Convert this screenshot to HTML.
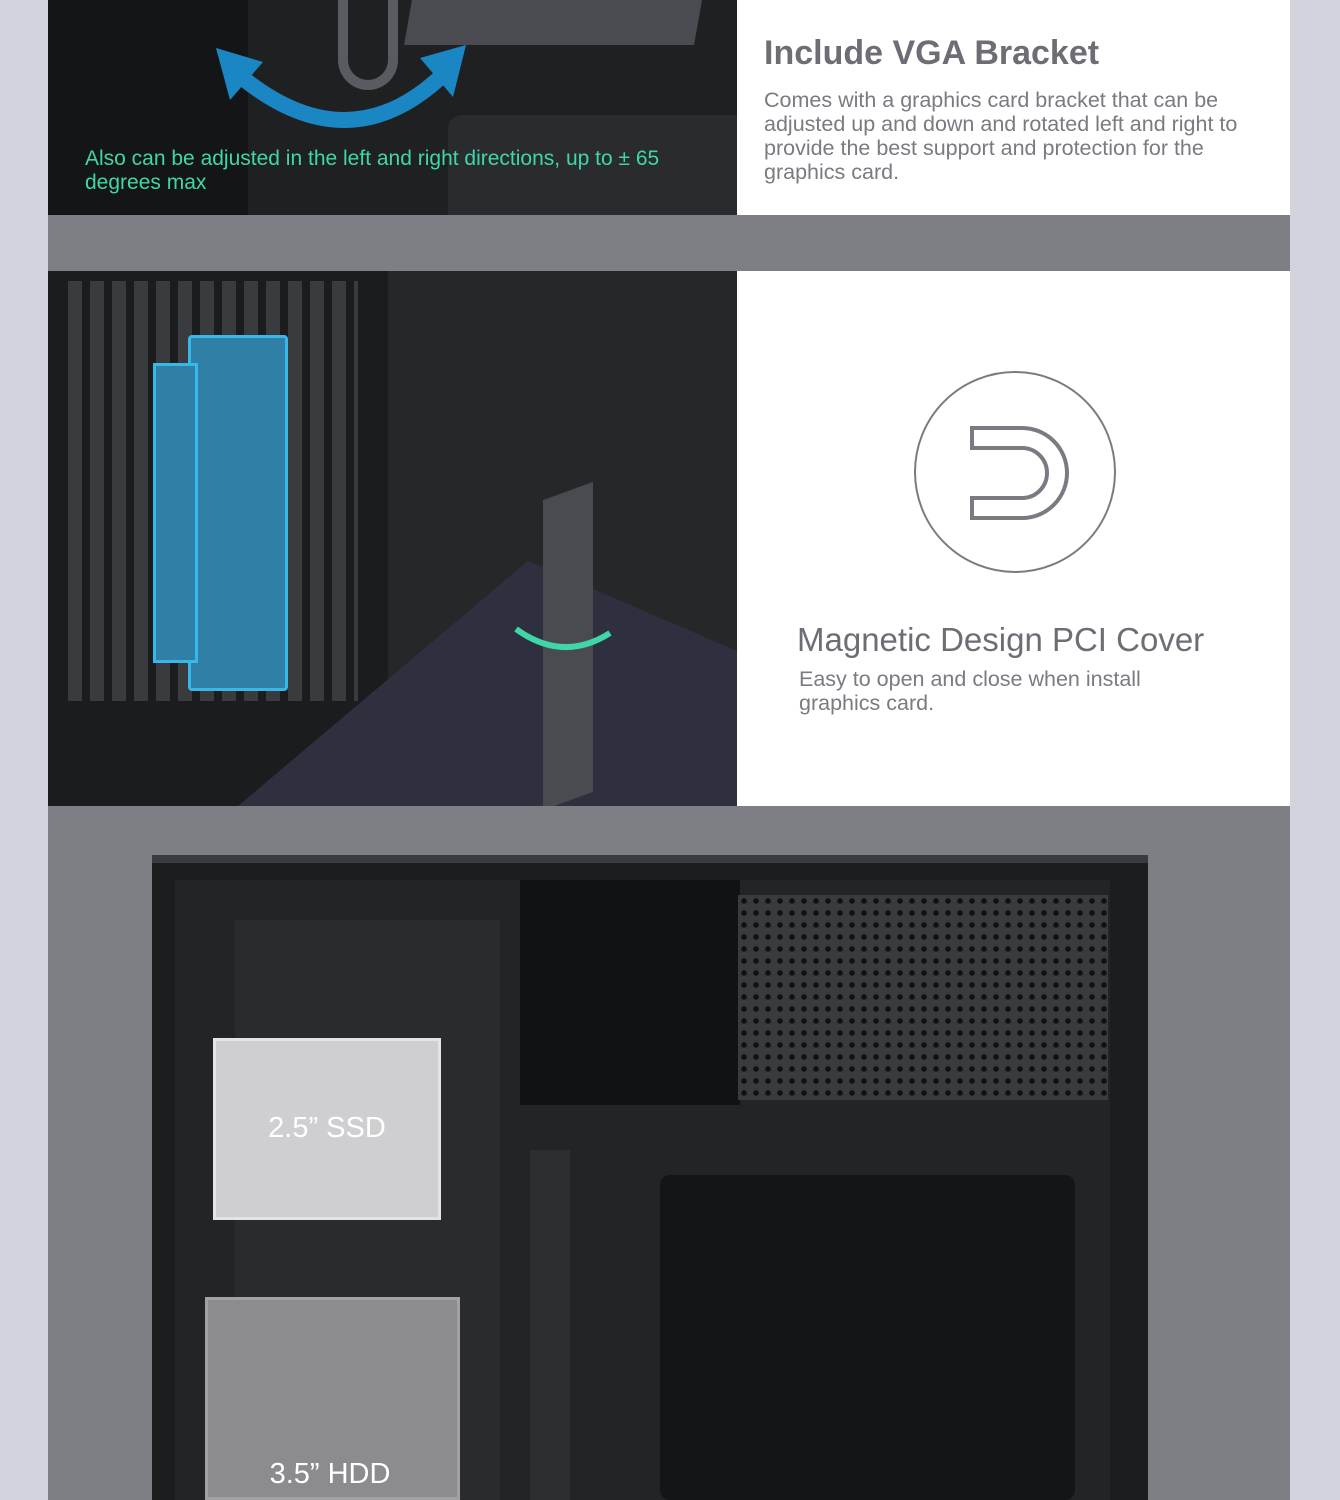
<!DOCTYPE html>
<html><head><meta charset="utf-8"><style>
body{margin:0;width:1340px;height:1500px;background:#d3d3dd;position:relative;overflow:hidden;font-family:"Liberation Sans",sans-serif}
div{position:absolute;box-sizing:border-box}
</style></head><body>
<div style="left:48px;top:0;width:1242px;height:1500px;background:#7e7e85"></div>
<div style="left:48px;top:0;width:689px;height:215px;background:#1f2022;overflow:hidden">
 <div style="left:0;top:0;width:200px;height:215px;background:#141516"></div>
 <div style="left:400px;top:115px;width:289px;height:100px;background:#2a2b2e;border-radius:14px 0 0 0"></div>
 <div style="left:290px;top:0;width:60px;height:90px;border:10px solid #5a5b60;border-top:none;border-radius:0 0 30px 30px"></div>
 <div style="left:360px;top:0;width:290px;height:45px;background:#4a4b50;transform:skewX(-10deg)"></div>
 <svg style="position:absolute;left:0;top:0" width="689" height="215"><path d="M185 70 Q300 170 400 70" fill="none" stroke="#1a86c4" stroke-width="16"/><polygon points="168,48 215,62 182,100" fill="#1a86c4"/><polygon points="418,45 372,58 405,97" fill="#1a86c4"/></svg>
 <div style="left:37px;top:147px;width:580px;color:#3fd6a8;font-size:21px;line-height:24px">Also can be adjusted in the left and right directions, up to ± 65 degrees max</div>
</div>
<div style="left:737px;top:0;width:553px;height:215px;background:#fff">
 <div style="left:27px;top:34px;font-size:34px;font-weight:bold;color:#6d6d75">Include VGA Bracket</div>
 <div style="left:27px;top:88px;width:505px;font-size:21.5px;line-height:24px;color:#7a7a82">Comes with a graphics card bracket that can be adjusted up and down and rotated left and right to provide the best support and protection for the graphics card.</div>
</div>
<div style="left:48px;top:271px;width:689px;height:535px;background:#262729;overflow:hidden">
 <div style="left:0;top:0;width:340px;height:535px;background:#1b1c1e"></div>
 <div style="left:20px;top:10px;width:290px;height:420px;background:repeating-linear-gradient(90deg,#3a3b3e 0 14px,#1b1c1e 14px 22px)"></div>
 <svg style="position:absolute;left:0;top:0" width="689" height="535"><polygon points="190,535 480,290 689,380 689,535" fill="#2e3040"/></svg>
 <div style="left:140px;top:64px;width:100px;height:356px;background:#2f7fa6;border:3px solid #37b8e8;border-radius:4px"></div>
 <div style="left:105px;top:92px;width:45px;height:300px;background:#2f7fa6;border:3px solid #37b8e8"></div>
 <div style="left:495px;top:220px;width:50px;height:310px;background:#4a4b50;transform:skewY(-20deg)"></div>
 <svg style="position:absolute;left:0;top:0" width="689" height="535"><path d="M468 358 Q515 392 562 362" fill="none" stroke="#3fd6a8" stroke-width="6"/></svg>
</div>
<div style="left:737px;top:271px;width:553px;height:535px;background:#fff">
 <div style="left:177px;top:100px;width:202px;height:202px;border:2px solid #7a7a82;border-radius:50%"></div>
 <svg style="position:absolute;left:230px;top:152px" width="115" height="100"><path d="M5 5 H55 A45 45 0 0 1 55 95 H5 V75 H55 A25 25 0 0 0 55 25 H5 Z" fill="none" stroke="#7a7a82" stroke-width="4"/></svg>
 <div style="left:60px;top:350px;font-size:33px;color:#6d6d75">Magnetic Design PCI Cover</div>
 <div style="left:62px;top:396px;width:390px;font-size:21.5px;line-height:24px;color:#7a7a82">Easy to open and close when install graphics card.</div>
</div>
<div style="left:152px;top:855px;width:996px;height:645px;background:#1c1d1f;border-top:8px solid #3a3b3e"></div>
<div style="left:175px;top:880px;width:935px;height:620px;background:#232427"></div>
<div style="left:235px;top:920px;width:265px;height:580px;background:#2a2b2e"></div>
<div style="left:520px;top:880px;width:220px;height:225px;background:#111214"></div>
<div style="left:738px;top:895px;width:370px;height:205px;background:#3a3b3e;background-image:radial-gradient(#111 2.5px,transparent 3px);background-size:12px 12px"></div>
<div style="left:660px;top:1175px;width:415px;height:325px;background:#141517;border-radius:10px"></div>
<div style="left:530px;top:1150px;width:40px;height:350px;background:#2d2e31"></div>
<div style="left:213px;top:1038px;width:228px;height:182px;background:#cfcfd2;border:3px solid #e4e4e6"></div>
<div style="left:213px;top:1112px;width:228px;text-align:center;font-size:29px;color:#fff">2.5” SSD</div>
<div style="left:205px;top:1297px;width:255px;height:203px;background:#8c8c90;border:3px solid #a2a2a6"></div>
<div style="left:205px;top:1458px;width:250px;text-align:center;font-size:29px;color:#fff">3.5” HDD</div>
</body></html>
